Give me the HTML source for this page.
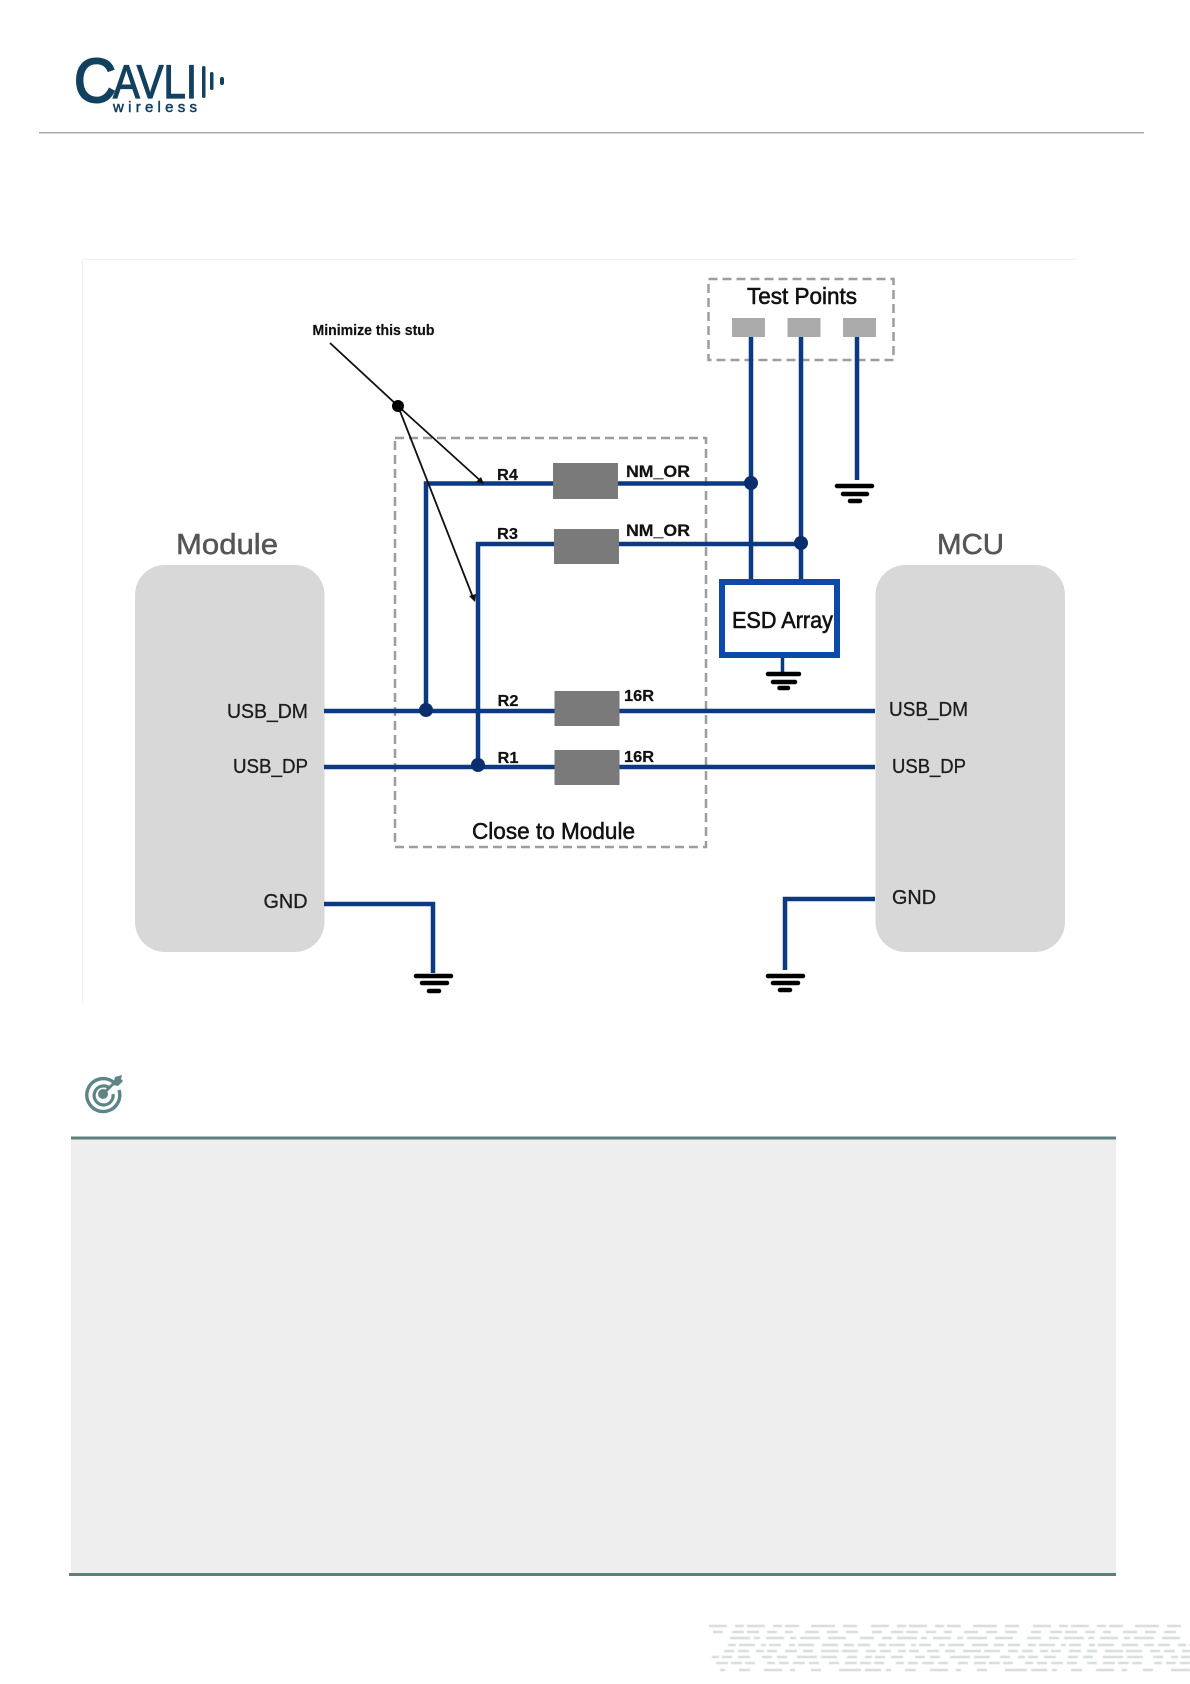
<!DOCTYPE html>
<html>
<head>
<meta charset="utf-8">
<title>USB routing diagram</title>
<style>
html,body{margin:0;padding:0;background:#fff;}
svg{display:block;}
text{font-family:"Liberation Sans",sans-serif;fill:#1c1c1c;stroke:#1c1c1c;stroke-width:.3px;}
.b{fill:#111;stroke:#111;stroke-width:.2px;}
.g{fill:#555;stroke:#555;stroke-width:.5px;}
.l{fill:#12405f;stroke:#12405f;}
</style>
</head>
<body>
<svg xmlns="http://www.w3.org/2000/svg" width="1190" height="1684" viewBox="0 0 1190 1684">
<defs><filter id="soft" x="-5%" y="-5%" width="110%" height="110%"><feGaussianBlur stdDeviation="0.6"/></filter></defs>
<rect width="1190" height="1684" fill="#fff"/>

<!-- header logo -->
<g>
<text x="74" y="102" font-size="62" textLength="42" lengthAdjust="spacingAndGlyphs" class="l" style="stroke-width:2px">C</text>
<text x="113" y="98" font-size="47" textLength="84" lengthAdjust="spacingAndGlyphs" class="l" style="stroke-width:1.200px">AVLI</text>
<rect x="202" y="66" width="3.500" height="32" rx="1.700" fill="#12405f"/>
<rect x="210" y="72" width="3.500" height="18" rx="1.700" fill="#12405f"/>
<rect x="220" y="77" width="4" height="8" rx="2" fill="#12405f"/>
<text x="113" y="112" font-size="15" textLength="84" lengthAdjust="spacing" class="l" style="stroke-width:.5px">wireless</text>
</g>
<rect x="39" y="132" width="1105" height="1.500" fill="#a8a8a8"/>

<!-- diagram frame -->
<path d="M82.500 1003V259.500H1076" fill="none" stroke="#f0f0f0" stroke-width="1"/>

<!-- module blocks -->
<rect x="135" y="565" width="189.500" height="387" rx="30" fill="#d8d8d8"/>
<rect x="875.500" y="565" width="189.500" height="387" rx="30" fill="#d8d8d8"/>

<!-- dashed boxes -->
<rect x="395" y="438" width="311" height="409" fill="none" stroke="#9d9d9d" stroke-width="2.500" stroke-dasharray="9 5"/>
<rect x="708.500" y="279" width="185" height="81" fill="none" stroke="#9d9d9d" stroke-width="2.500" stroke-dasharray="9 5"/>

<!-- test pads -->
<rect x="732" y="318" width="33" height="19" fill="#aaaaaa"/>
<rect x="787.500" y="318" width="33" height="19" fill="#aaaaaa"/>
<rect x="843" y="318" width="33" height="19" fill="#aaaaaa"/>

<!-- wires -->
<g fill="none" stroke="#0b3a82" stroke-width="4.500">
<path d="M751 337V580"/>
<path d="M801 337V580"/>
<path d="M857 337V480"/>
<path d="M426 711V483.500H751"/>
<path d="M478 767V544H801"/>
<path d="M324 711H875"/>
<path d="M324 767H875"/>
<path d="M324 904H433V973"/>
<path d="M875 899H785V970"/>
<path d="M782.500 658V673" stroke-width="3.500"/>
</g>

<!-- resistors -->
<rect x="553" y="463" width="65" height="36" fill="#7a7a7a"/>
<rect x="554" y="529" width="65" height="35" fill="#7a7a7a"/>
<rect x="554.500" y="691" width="65" height="35" fill="#7a7a7a"/>
<rect x="554.500" y="750" width="65" height="35" fill="#7a7a7a"/>

<!-- junction dots -->
<g fill="#0a2f6c">
<circle cx="751" cy="483" r="7"/>
<circle cx="801" cy="543" r="7"/>
<circle cx="426" cy="710" r="7"/>
<circle cx="478" cy="765" r="7"/>
</g>

<!-- ESD -->
<rect x="722" y="582" width="115" height="73" fill="#fff" stroke="#0b4aa8" stroke-width="6"/>

<!-- grounds -->
<g stroke="#000" stroke-width="4.500" stroke-linecap="round" fill="none">
<path d="M416 976H451M422 983H447M429 991H439"/>
<path d="M768 976H803M773 983H798M780 990H790"/>
<path d="M768 674H799M773 682H795M779.500 688H788"/>
<path d="M837 486H872M843 494H867M850 501H860"/>
</g>

<!-- stub arrows -->
<g stroke="#111" stroke-width="1.800" fill="none">
<path d="M330 343L398 406L483 483"/>
<path d="M398 406L474 600"/>
</g>
<circle cx="398" cy="406" r="6" fill="#000"/>
<path d="M484 484L476 482L481 477Z" fill="#111"/>
<path d="M475 602L469 596L476 594Z" fill="#111"/>

<!-- labels -->
<text x="176" y="554" font-size="29" textLength="102" lengthAdjust="spacingAndGlyphs" class="g">Module</text>
<text x="937" y="554" font-size="29" textLength="67" lengthAdjust="spacingAndGlyphs" class="g">MCU</text>
<text x="312.500" y="335" font-size="15" font-weight="bold" textLength="122" lengthAdjust="spacingAndGlyphs" class="b">Minimize this stub</text>
<text x="497" y="480" font-size="15.500" font-weight="bold" textLength="21" lengthAdjust="spacingAndGlyphs" class="b">R4</text>
<text x="497" y="539" font-size="15.500" font-weight="bold" textLength="21" lengthAdjust="spacingAndGlyphs" class="b">R3</text>
<text x="497.500" y="706" font-size="15.500" font-weight="bold" textLength="21" lengthAdjust="spacingAndGlyphs" class="b">R2</text>
<text x="497.500" y="763" font-size="15.500" font-weight="bold" textLength="21" lengthAdjust="spacingAndGlyphs" class="b">R1</text>
<text x="626" y="477" font-size="17" font-weight="bold" textLength="64" lengthAdjust="spacingAndGlyphs" class="b">NM_OR</text>
<text x="626" y="536" font-size="17" font-weight="bold" textLength="64" lengthAdjust="spacingAndGlyphs" class="b">NM_OR</text>
<text x="624" y="701" font-size="15.500" font-weight="bold" textLength="30" lengthAdjust="spacingAndGlyphs" class="b">16R</text>
<text x="624" y="762" font-size="15.500" font-weight="bold" textLength="30" lengthAdjust="spacingAndGlyphs" class="b">16R</text>
<text x="747" y="304" font-size="23" textLength="110" lengthAdjust="spacingAndGlyphs" style="fill:#111;stroke:#111;stroke-width:.6px">Test Points</text>
<text x="732" y="628" font-size="23" textLength="101" lengthAdjust="spacingAndGlyphs" style="fill:#111;stroke:#111;stroke-width:.6px">ESD Array</text>
<text x="472" y="839" font-size="23" textLength="163" lengthAdjust="spacingAndGlyphs" style="fill:#111;stroke:#111;stroke-width:.5px">Close to Module</text>
<text x="227" y="718" font-size="20.500" textLength="81" lengthAdjust="spacingAndGlyphs">USB_DM</text>
<text x="233" y="773" font-size="20.500" textLength="75" lengthAdjust="spacingAndGlyphs">USB_DP</text>
<text x="263.500" y="908" font-size="20.500" textLength="44" lengthAdjust="spacingAndGlyphs">GND</text>
<text x="889" y="716" font-size="20.500" textLength="79" lengthAdjust="spacingAndGlyphs">USB_DM</text>
<text x="892" y="773" font-size="20.500" textLength="74" lengthAdjust="spacingAndGlyphs">USB_DP</text>
<text x="892" y="904" font-size="20.500" textLength="44" lengthAdjust="spacingAndGlyphs">GND</text>

<!-- target icon -->
<g fill="none" stroke="#5d8585">
<path d="M114 1082.500A16.500 16.500 0 1 0 119 1090" stroke-width="3.400"/>
<path d="M109.500 1088A9.500 9.500 0 1 0 113 1094" stroke-width="3.200"/>
<path d="M103 1094L117 1080" stroke-width="2.800"/>
</g>
<circle cx="103" cy="1094" r="5" fill="#5d8585"/>
<path d="M113 1085L115 1077L122 1075L121 1079L123 1081L118 1086Z" fill="#5d8585"/>

<!-- panel -->
<rect x="71" y="1138" width="1045" height="436" fill="#eeeeee"/>
<rect x="71" y="1136.500" width="1045" height="3" fill="#5c7f80"/>
<rect x="69" y="1573" width="1047" height="3" fill="#5c7f80"/>

<!-- faint footer pattern -->
<g fill="none" stroke="#d4d8d8" stroke-width="2.200" filter="url(#soft)">
<path d="M709 1626H1190" stroke-dasharray="18 8 9 3 18 8 9 3 14 12 24 8 14 14"/>
<path d="M713 1632H1190" stroke-dasharray="10 9 12 3 12 8 10 8 8 12 14 8 11 8 12 14"/>
<path d="M730 1638H1190" stroke-dasharray="20 4 6 6 18 6 6 4 20 8 18 14 14 8 10 5"/>
<path d="M728 1645H1190" stroke-dasharray="8 3 16 6 5 3 12 8 6 3 16 8 16 6 10 4 12 8"/>
<path d="M724 1651H1190" stroke-dasharray="10 4 11 7 8 3 10 8 12 6 10 8 18 3 16 8"/>
<path d="M712 1657H1190" stroke-dasharray="7 3 10 6 12 12 10 5 10 10 20 4 16 10 10 8"/>
<path d="M716 1663H1190" stroke-dasharray="12 3 11 3 10 12 8 4 10 4 12 4 10 10 10 6"/>
<path d="M720 1670H1190" stroke-dasharray="5 14 11 14 18 8 5 16 10 18 22 4 16 5"/>
</g>
</svg>
</body>
</html>
